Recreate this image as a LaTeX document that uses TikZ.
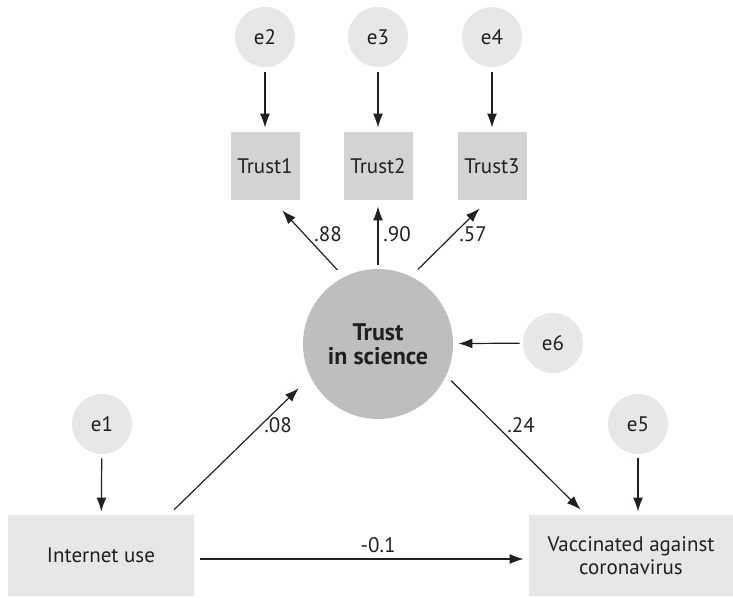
\documentclass[tikz,border=0pt]{standalone}
\usepackage{fontspec}
\setmainfont{PT Sans}
\usetikzlibrary{arrows.meta}
\definecolor{errgrey}{HTML}{E6E7E8}
\definecolor{obsgrey}{HTML}{D1D3D4}
\definecolor{latgrey}{HTML}{BCBEC0}
\definecolor{inkdark}{HTML}{231F20}

\begin{document}
\begin{tikzpicture}[x=0.5pt, y=-0.5pt, font=\fontsize{10.5}{11.5}\selectfont, text=inkdark,
    errnode/.style={circle, fill=errgrey, minimum size=30pt, inner sep=0pt},
    obsnode/.style={rectangle, fill=obsgrey, minimum width=34.5pt, minimum height=34pt, inner sep=0pt},
    varbox/.style={rectangle, fill=errgrey, minimum height=40.5pt, inner sep=0pt, align=center},
    link/.style={-{Latex[length=7pt, width=5pt]}, line width=0.6pt, draw=inkdark},
    lbl/.style={inner sep=0pt}]
    \useasboundingbox (0,0) rectangle (733,598);
    % error terms
    \node[errnode] (e2) at (265,37) {e2};
    \node[errnode] (e3) at (378,37) {e3};
    \node[errnode] (e4) at (492,37) {e4};
    \node[errnode] (e6) at (553,343) {e6};
    \node[errnode] (e1) at (102,424) {e1};
    \node[errnode] (e5) at (638,424) {e5};
    % indicators
    \node[obsnode] (t1) at (265,166) {Trust1};
    \node[obsnode] (t2) at (378,166) {Trust2};
    \node[obsnode] (t3) at (492,166) {Trust3};
    % latent
    \node[circle, fill=latgrey, minimum size=75pt, inner sep=0pt, align=center,
          font=\fontsize{12}{12}\selectfont\bfseries] (ts) at (378,344) {Trust\\in science};
    % observed variables
    \node[varbox, minimum width=93pt] (ib) at (101,555.5) {Internet use};
    \node[varbox, minimum width=102pt] (vc) at (631,555.5) {Vaccinated against\\coronavirus};

    \draw[link, shorten <=2.5pt, shorten >=2pt] (e2) -- (t1);
    \draw[link, shorten <=2.5pt, shorten >=2pt] (e3) -- (t2);
    \draw[link, shorten <=2.5pt, shorten >=2pt] (e4) -- (t3);
    \draw[link, shorten <=4.7pt, shorten >=6.8pt] (ts.117) -- (t1.283);
    \draw[link, shorten <=2pt, shorten >=3pt] (ts.north) -- (t2.south);
    \draw[link, shorten <=4.8pt, shorten >=5.7pt] (ts.64) -- (t3.263);
    \draw[link, shorten <=1.5pt, shorten >=2.5pt] (e6) -- (ts);
    \draw[link, shorten <=2pt, shorten >=1.5pt] (e1) -- (ib);
    \draw[link, shorten <=2pt, shorten >=1.5pt] (e5) -- (e5 |- vc.north);
    \draw[link, shorten <=3.6pt, shorten >=8pt] (ib.31) -- (ts.206);
    \draw[link, shorten <=3.4pt, shorten >=3.5pt] (ts.335) -- (vc.138);
    \draw[link, shorten <=3pt, shorten >=2.5pt] ([yshift=-1.75pt]ib.east) -- ([yshift=-1.75pt]vc.west);

    % path coefficients
    \node[lbl] (l88) at (328,234) {.88};
    \node[lbl] (l90) at (397,234) {.90};
    \node[lbl] (l57) at (473,234) {.57};
    \node[lbl] (l08) at (278,425) {.08};
    \node[lbl] (l24) at (521,425) {.24};
    \node[lbl] (l01) at (378,545) {-0.1};
\end{tikzpicture}
\end{document}
